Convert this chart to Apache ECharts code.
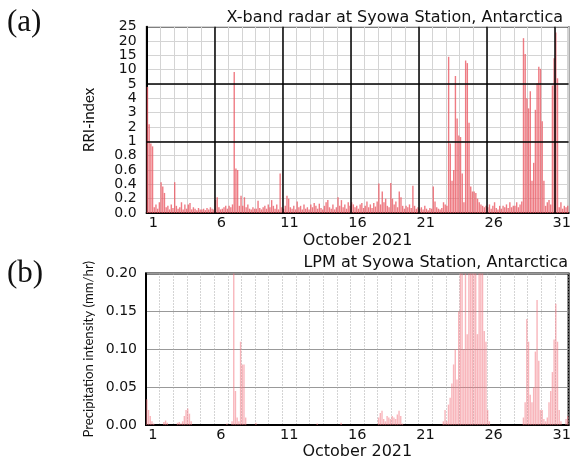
<!DOCTYPE html>
<html><head><meta charset="utf-8">
<script src="https://cdn.jsdelivr.net/npm/echarts@6/dist/echarts.min.js"></script>
<style>html,body{margin:0;padding:0;background:#fff}#c{width:574px;height:461px}</style>
</head><body><div id="c"></div>
<script>
// ---- data ----
const days = [1,2,3,4,5,6,7,8,9,10,11,12,13,14,15,16,17,18,19,20,21,22,23,24,25,26,27,28,29,30,31];
const binHours = [1.5,4.5,7.5,10.5,13.5,16.5,19.5,22.5];
const dayLabels = ['1','6','11','16','21','26','31'];
const rriTickLabels = ['0.0','0.2','0.4','0.6','0.8','1','2','3','4','5','10','15','20','25'];
const lpmTickLabels = ['0.00','0.05','0.10','0.15','0.20'];

// RRI-index (X-band radar), 8 bins per day
const rriIndex = [
  4.8,2.2,0.97,0.93,0.08,0.12,0.06,0.15,
  0.43,0.37,0.28,0.08,0.1,0.05,0.12,0.07,
  0.43,0.1,0.06,0.08,0.15,0.05,0.12,0.06,
  0.12,0.14,0.05,0.08,0.06,0.04,0.07,0.05,
  0.05,0.06,0.04,0.07,0.05,0.08,0.06,0.05,
  0.18,0.22,0.08,0.05,0.06,0.08,0.1,0.06,
  0.1,0.08,0.12,9.2,0.62,0.6,0.1,0.24,
  0.1,0.22,0.08,0.12,0.06,0.05,0.08,0.06,
  0.06,0.17,0.07,0.05,0.08,0.1,0.06,0.12,
  0.08,0.18,0.1,0.06,0.12,0.05,0.55,0.08,
  0.06,0.1,0.24,0.2,0.08,0.06,0.1,0.05,
  0.16,0.08,0.1,0.05,0.12,0.06,0.08,0.05,
  0.12,0.08,0.14,0.1,0.06,0.13,0.07,0.05,
  0.1,0.15,0.18,0.08,0.06,0.12,0.05,0.08,
  0.22,0.1,0.18,0.08,0.12,0.06,0.15,0.1,
  0.15,0.12,0.08,0.1,0.06,0.12,0.14,0.07,
  0.1,0.16,0.08,0.12,0.07,0.14,0.09,0.16,
  0.41,0.12,0.3,0.15,0.2,0.1,0.08,0.42,
  0.2,0.12,0.16,0.08,0.3,0.22,0.1,0.06,
  0.1,0.08,0.12,0.07,0.38,0.1,0.06,0.08,
  0.06,0.08,0.05,0.1,0.06,0.04,0.07,0.06,
  0.37,0.16,0.08,0.06,0.05,0.07,0.15,0.12,
  0.1,14.5,0.97,0.45,0.6,7.8,2.6,1.4,
  1.3,0.55,0.15,13.2,12.3,2.3,0.37,0.3,
  0.3,0.28,0.2,0.15,0.12,0.1,0.08,0.1,
  0.08,0.12,0.06,0.1,0.15,0.07,0.05,0.1,
  0.06,0.1,0.08,0.12,0.07,0.15,0.08,0.1,
  0.1,0.15,0.08,0.12,0.16,21,15.5,4.0,
  3.3,4.5,0.45,0.7,3.2,5.3,11,10.3,
  2.4,0.45,0.1,0.15,0.18,0.12,4.9,14,
  23,7,0.08,0.15,0.06,0.1,0.08,0.1
];

// LPM precipitation intensity (mm/hr), 8 bins per day
const lpmIntensity = [
  0.034,0.02,0.012,0.005,0.002,0,0,0,
  0,0,0.004,0.006,0.003,0,0,0,
  0,0,0.003,0.004,0.002,0.005,0.012,0.02,
  0.022,0.015,0.005,0,0,0,0,0,
  0,0,0,0,0,0,0,0,
  0,0,0,0,0,0,0,0.002,
  0,0,0.005,0.25,0.045,0.01,0.005,0.11,
  0.08,0.08,0.01,0,0,0,0,0,
  0.003,0,0,0,0,0,0,0,
  0,0,0,0,0,0,0,0,
  0,0,0,0,0,0,0,0,
  0,0,0,0,0,0,0,0,
  0,0,0,0,0.002,0,0,0,
  0,0,0,0,0,0,0,0,
  0,0,0.003,0,0,0,0,0,
  0,0,0,0,0,0,0,0,
  0,0,0,0,0,0,0,0,
  0.01,0.016,0.019,0.008,0.005,0.012,0.01,0.008,
  0.012,0.01,0.008,0.014,0.019,0.012,0.002,0,
  0,0,0,0,0,0,0,0,
  0,0,0,0,0,0,0,0,
  0,0,0,0,0,0,0.005,0.02,
  0.005,0.027,0.036,0.055,0.08,0.1,0.06,0.15,
  0.25,0.25,0.1,0.22,0.12,0.25,0.21,0.25,
  0.25,0.25,0.12,0.25,0.25,0.22,0.124,0.11,
  0.02,0.005,0,0,0,0,0,0,
  0,0,0,0,0,0,0,0,
  0,0,0,0,0,0.01,0.03,0.14,
  0.11,0.04,0.03,0.05,0.097,0.165,0.085,0.02,
  0.02,0.008,0.005,0.01,0.03,0.045,0.07,0.113,
  0.16,0.11,0.02,0.005,0,0,0.008,0.012
];

// ---- helpers ----
function rriToPos(v){ // piecewise axis: 0-1 (5 steps), 1-5 (4 steps), 5-25 (4 steps)
  if (v <= 1) return v * 5;
  if (v <= 5) return 5 + (v - 1);
  return 9 + (v - 5) / 5;
}
function buildData(values, tf){
  const out = [];
  days.forEach((d, i) => {
    binHours.forEach((h, j) => {
      const v = values[i * binHours.length + j];
      out.push([(d - 1) + h / 24, tf ? tf(v) : v]);
    });
  });
  return out;
}
const labelPos = dayLabels.map(d => Number(d) - 0.5);
const majorDayLines = dayLabels.slice(1).map(d => Number(d) - 1);
const rriTickPos = rriTickLabels.map((t, i) => i);

const FONT = 'DejaVu Sans';
function xAxisCfg(gridIndex){
  return {
    type: 'value', gridIndex: gridIndex, min: 0, max: 31, interval: 1,
    name: 'October 2021', nameLocation: 'middle', nameGap: gridIndex === 0 ? 20 : 17,
    nameTextStyle: {fontFamily: FONT, fontSize: 16, color: '#111'},
    axisLine: {show: true, onZero: false, lineStyle: {color: '#000', width: 2}},
    axisTick: {show: false},
    axisLabel: {
      customValues: labelPos, margin: 3,
      fontFamily: FONT, fontSize: 14.5, color: '#111',
      formatter: v => String(Math.round(v + 0.5))
    },
    splitLine: {show: true, lineStyle: gridIndex === 0
      ? {color: '#d4d4d4', width: 1}
      : {color: '#a8a8a8', width: 1, type: [1, 2]}}
  };
}

const chart = echarts.init(document.getElementById('c'), null, {renderer: 'canvas'});
chart.setOption({
  animation: false,
  backgroundColor: '#fff',
  grid: [
    {left: 146.6, top: 26.7, width: 424.1, height: 186.3, show: true, borderColor: '#000', borderWidth: 1.5},
    {left: 146, top: 273.5, width: 428.6, height: 154, show: true, borderColor: '#000', borderWidth: 2}
  ],
  title: [
    {text: 'X-band radar at Syowa Station, Antarctica', right: 11, top: 10, padding: 0,
     textStyle: {fontFamily: FONT, fontSize: 16, fontWeight: 'normal', color: '#111'}},
    {text: 'LPM at Syowa Station, Antarctica', right: 6, top: 255, padding: 0,
     textStyle: {fontFamily: FONT, fontSize: 16, fontWeight: 'normal', color: '#111'}}
  ],
  graphic: [
    {type: 'text', left: 7, top: 7, style: {text: '(a)', font: '31px "Liberation Serif"', fill: '#111'}},
    {type: 'text', left: 7, top: 258, style: {text: '(b)', font: '31px "Liberation Serif"', fill: '#111'}}
  ],
  xAxis: [xAxisCfg(0), xAxisCfg(1)],
  yAxis: [
    {
      type: 'value', gridIndex: 0, min: 0, max: rriTickLabels.length - 1, interval: 1,
      name: 'RRI-index', nameLocation: 'middle', nameGap: 50, nameRotate: 90,
      nameTextStyle: {fontFamily: 'Lato', fontSize: 15, color: '#111'},
      axisLine: {show: true, lineStyle: {color: '#000', width: 2}},
      axisTick: {show: false},
      axisLabel: {customValues: rriTickPos, margin: 10, fontFamily: FONT, fontSize: 14, lineHeight: 11, color: '#111',
        showMinLabel: true, showMaxLabel: true, hideOverlap: false,
        formatter: v => rriTickLabels[Math.round(v)]},
      splitLine: {show: true, lineStyle: {color: '#d4d4d4', width: 1}}
    },
    {
      type: 'value', gridIndex: 1, min: 0, max: 0.2, interval: 0.05,
      name: 'Precipitation intensity (mm/hr)', nameLocation: 'middle', nameGap: 50, nameRotate: 90,
      nameTextStyle: {fontFamily: 'Lato', fontSize: 13.2, color: '#111'},
      axisLine: {show: true, lineStyle: {color: '#000', width: 2}},
      axisTick: {show: false},
      axisLabel: {margin: 9, fontFamily: FONT, fontSize: 14, color: '#111',
        showMinLabel: true, showMaxLabel: true,
        formatter: v => lpmTickLabels[Math.round(v / 0.05)]},
      splitLine: {show: true, lineStyle: {color: '#999', width: 1}}
    }
  ],
  series: [
    {
      type: 'bar', xAxisIndex: 0, yAxisIndex: 0, barWidth: 1.4,
      data: buildData(rriIndex, rriToPos),
      itemStyle: {color: 'rgba(234,90,100,0.8)'},
      markLine: {
        silent: true, symbol: 'none', label: {show: false},
        lineStyle: {color: '#000', width: 1.5, type: 'solid'},
        data: [{yAxis: rriToPos(1)}, {yAxis: rriToPos(5)}].concat(majorDayLines.map(x => ({xAxis: x})))
      }
    },
    {
      type: 'bar', xAxisIndex: 1, yAxisIndex: 1, barWidth: 1.4, clip: true,
      data: buildData(lpmIntensity),
      itemStyle: {color: 'rgba(242,120,132,0.55)'}
    }
  ]
});
</script>
</body></html>
